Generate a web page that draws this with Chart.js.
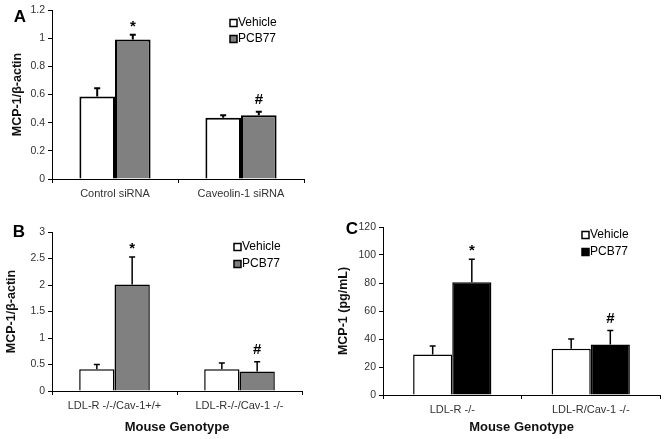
<!DOCTYPE html>
<html>
<head>
<meta charset="utf-8">
<script src="https://cdn.jsdelivr.net/npm/chart.js@4.4.0/dist/chart.umd.min.js"></script>
<style>
    body { margin: 0; background: #fff; }
    #wrap { position: relative; width: 664px; height: 439px; }
    canvas { position: absolute; }
</style>
</head>
<body>
<div id="wrap">
    <canvas id="chartA" width="330" height="212" style="left:0;top:0"></canvas>
    <canvas id="chartB" width="330" height="224" style="left:0;top:215px"></canvas>
    <canvas id="chartC" width="334" height="224" style="left:330px;top:215px"></canvas>
</div>
<script>
// panel A
const aCategories = ['Control siRNA', 'Caveolin-1 siRNA'];
const aVehicle = [0.585, 0.435];
const aVehicleErr = [0.06, 0.017];
const aPcb = [0.99, 0.452];
const aPcbErr = [0.035, 0.025];
const aMarks = ['*', '#'];

// panel B
const bCategories = ['LDL-R -/-/Cav-1+/+', 'LDL-R-/-/Cav-1 -/-'];
const bVehicle = [0.41, 0.41];
const bVehicleErr = [0.09, 0.12];
const bPcb = [2.01, 0.37];
const bPcbErr = [0.52, 0.18];
const bMarks = ['*', '#'];

// panel C
const cCategories = ['LDL-R -/-', 'LDL-R/Cav-1 -/-'];
const cVehicle = [29, 33];
const cVehicleErr = [6, 7];
const cPcb = [80.5, 36];
const cPcbErr = [16.5, 10];
const cMarks = ['*', '#'];

const seriesNames = ['Vehicle', 'PCB77'];

Chart.defaults.font.family = '"Liberation Sans", Arial, sans-serif';
Chart.defaults.color = '#222';

// error bars, significance marks, legend and panel letter
function decor(cfg) {
    return {
        id: 'decor',
        afterDatasetsDraw(chart) {
            const ctx = chart.ctx;
            const yScale = chart.scales.y;
            ctx.save();
            ctx.strokeStyle = '#000';
            ctx.fillStyle = '#000';
            ctx.lineWidth = cfg.errWidth;
            cfg.errors.forEach((errs, di) => {
                const meta = chart.getDatasetMeta(di);
                meta.data.forEach((bar, i) => {
                    const v = chart.data.datasets[di].data[i];
                    const top = yScale.getPixelForValue(v + errs[i]);
                    ctx.beginPath();
                    ctx.moveTo(bar.x, bar.y);
                    ctx.lineTo(bar.x, top);
                    ctx.moveTo(bar.x - 3, top);
                    ctx.lineTo(bar.x + 3, top);
                    ctx.stroke();
                    if (di === 1) {
                        ctx.font = 'bold 15px "Liberation Sans", Arial, sans-serif';
                        ctx.textAlign = 'center';
                        ctx.textBaseline = 'middle';
                        ctx.fillText(cfg.marks[i], bar.x, top - (cfg.marks[i] === '*' ? 8 : 12));
                    }
                });
            });

            // legend
            ctx.font = '12px "Liberation Sans", Arial, sans-serif';
            ctx.textAlign = 'left';
            ctx.textBaseline = 'middle';
            ctx.lineWidth = 1.5;
            seriesNames.forEach((name, k) => {
                const ly = cfg.legendY + k * cfg.legendGap;
                ctx.fillStyle = chart.data.datasets[k].backgroundColor;
                ctx.fillRect(cfg.legendX, ly - 3.5, 7, 7);
                ctx.strokeRect(cfg.legendX, ly - 3.5, 7, 7);
                ctx.fillStyle = '#000';
                ctx.fillText(name, cfg.legendX + 8, ly);
            });

            // panel letter
            ctx.font = 'bold 17px "Liberation Sans", Arial, sans-serif';
            ctx.textAlign = 'center';
            ctx.fillText(cfg.letter, cfg.letterX, cfg.letterY);
            ctx.restore();
        }
    };
}

function makePanel(id, p) {
    const canvas = document.getElementById(id).getContext('2d');
    return new Chart(canvas, {
        type: 'bar',
        plugins: [decor(p)],
        data: {
            labels: p.labels,
            datasets: [
                {
                    label: seriesNames[0],
                    data: p.vehicle,
                    backgroundColor: '#ffffff',
                    borderColor: '#000',
                    borderWidth: p.barBorder,
                    categoryPercentage: 0.565,
                    barPercentage: 1.0
                },
                {
                    label: seriesNames[1],
                    data: p.pcb,
                    backgroundColor: p.pcbColor,
                    borderColor: '#000',
                    borderWidth: p.barBorder,
                    categoryPercentage: 0.565,
                    barPercentage: 1.0
                }
            ]
        },
        options: {
            responsive: false,
            animation: false,
            devicePixelRatio: 1,
            layout: {
                padding: { top: p.padTop, right: p.padRight, left: 0, bottom: 0 }
            },
            plugins: {
                legend: { display: false },
                tooltip: { enabled: false }
            },
            scales: {
                x: {
                    afterFit: (s) => { s.height = p.xHeight; },
                    grid: { offset: true, drawOnChartArea: false, color: '#000', tickLength: 4 },
                    border: { color: '#000', width: 1 },
                    ticks: { font: { size: 11 }, padding: 4, color: '#333', maxRotation: 0 },
                    title: {
                        display: !!p.xTitle,
                        text: p.xTitle || '',
                        font: { size: 13, weight: 'bold' },
                        color: '#111',
                        padding: { top: 0, bottom: 4 }
                    }
                },
                y: {
                    min: 0,
                    max: p.max,
                    afterFit: (s) => { s.width = p.yWidth; },
                    grid: { drawOnChartArea: false, color: '#000', tickLength: 4 },
                    border: { color: '#000', width: 1 },
                    ticks: {
                        stepSize: p.step,
                        font: { size: 10.5 },
                        padding: 3,
                        color: '#333',
                        callback: (v) => String(Math.round(v * 100) / 100)
                    },
                    title: {
                        display: true,
                        text: p.yTitle,
                        font: { size: 12.5, weight: 'bold' },
                        color: '#111',
                        padding: { top: p.yTitlePad, bottom: 0 }
                    }
                }
            }
        }
    });
}

const chartA = makePanel('chartA', {
    labels: aCategories, vehicle: aVehicle, pcb: aPcb,
    errors: [aVehicleErr, aPcbErr], marks: aMarks,
    pcbColor: '#808080', barBorder: 2, errWidth: 2,
    max: 1.2, step: 0.2, yTitle: 'MCP-1/β-actin', yTitlePad: 10,
    padTop: 10, padRight: 26, yWidth: 52, xHeight: 33,
    legendX: 230, legendY: 23, legendGap: 16,
    letter: 'A', letterX: 20, letterY: 17
});

const chartB = makePanel('chartB', {
    labels: bCategories, vehicle: bVehicle, pcb: bPcb,
    errors: [bVehicleErr, bPcbErr], marks: bMarks,
    pcbColor: '#808080', barBorder: 1.5, errWidth: 1.5,
    max: 3, step: 0.5, yTitle: 'MCP-1/β-actin', yTitlePad: 4,
    xTitle: 'Mouse Genotype',
    padTop: 17, padRight: 28, yWidth: 52, xHeight: 48,
    legendX: 234, legendY: 32, legendGap: 17,
    letter: 'B', letterX: 19, letterY: 17
});

const chartC = makePanel('chartC', {
    labels: cCategories, vehicle: cVehicle, pcb: cPcb,
    errors: [cVehicleErr, cPcbErr], marks: cMarks,
    pcbColor: '#000000', barBorder: 1.5, errWidth: 1.5,
    max: 120, step: 20, yTitle: 'MCP-1 (pg/mL)', yTitlePad: 6,
    xTitle: 'Mouse Genotype',
    padTop: 12, padRight: 4, yWidth: 53, xHeight: 44,
    legendX: 252, legendY: 20, legendGap: 17,
    letter: 'C', letterX: 22, letterY: 14
});
</script>
</body>
</html>
